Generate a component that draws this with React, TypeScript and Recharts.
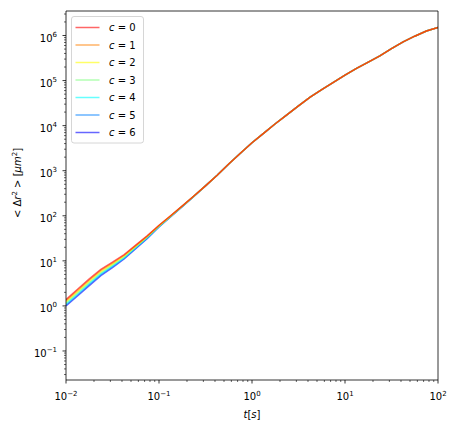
import React from 'react';
import { LineChart, Line, XAxis, YAxis } from 'recharts';

// time lags t [s]
const T = [
  0.01, 0.0133, 0.0178, 0.0237, 0.0316, 0.0422, 0.0562, 0.075, 0.1, 0.133, 0.178,
  0.237, 0.316, 0.422, 0.562, 0.75, 1, 1.33, 1.78, 2.37, 3.16, 4.22, 5.62, 7.5, 10,
  13.3, 17.8, 23.7, 31.6, 42.2, 56.2, 75, 100,
];

// MSD <dr^2> [um^2], one array per c
const LATE = [
  462, 794, 1410, 2450, 4170, 6760, 11000, 17400, 27500, 42700, 63100, 91200, 132000,
  186000, 257000, 355000, 513000, 724000, 966000, 1260000, 1510000,
];
const C0 = [1.38, 2.34, 3.98, 6.46, 9.33, 13.8, 22.4, 36.3, 61.7, 100, 166, 275, ...LATE];
const C1 = [1.31, 2.21, 3.76, 6.12, 8.91, 13.3, 21.7, 35.5, 60.8, 99.0, 165, 274, ...LATE];
const C2 = [1.24, 2.08, 3.55, 5.80, 8.51, 12.8, 21.0, 34.7, 59.8, 98.1, 164, 273, ...LATE];
const C3 = [1.17, 1.97, 3.35, 5.50, 8.13, 12.3, 20.4, 33.9, 58.9, 97.2, 163, 272, ...LATE];
const C4 = [1.11, 1.86, 3.16, 5.21, 7.76, 11.8, 19.8, 33.1, 57.9, 96.2, 162, 271, ...LATE];
const C5 = [1.05, 1.75, 2.98, 4.94, 7.41, 11.4, 19.2, 32.3, 57.1, 95.3, 161, 270, ...LATE];
const C6 = [1.00, 1.66, 2.82, 4.68, 7.08, 11.0, 18.6, 31.6, 56.3, 94.4, 160, 269, ...LATE];

const SERIES = [C0, C1, C2, C3, C4, C5, C6];
const NAMES = ['0', '1', '2', '3', '4', '5', '6'];
const COLORS = ['#ff0000', '#ff8000', '#ffff00', '#80ff80', '#00ffff', '#0080ff', '#0000ff'];

const X_MAJOR = [0.01, 0.1, 1, 10, 100];
const Y_MAJOR = [0.01, 0.1, 1, 10, 100, 1000, 10000, 100000, 1000000];
const MINOR_STEPS = [2, 3, 4, 5, 6, 7, 8, 9];
const X_DOMAIN = [0.01, 100];
const Y_DOMAIN = [0.0227, 3.5e6];

const W = 456;
const H = 431;
const LEFT = 66;
const RIGHT = 438;
const TOP = 11;
const BOTTOM = 380;
const X_AXIS_H = 30;
const Y_AXIS_W = 40;
const FONT = '"DejaVu Sans", sans-serif';

const data = T.map((t, i) => {
  const row: Record<string, number> = { t };
  SERIES.forEach((s, k) => { row['c' + k] = s[i]; });
  return row;
});

const withMinor = (major: number[], dom: number[]) => {
  const out: number[] = [];
  major.forEach((m) => {
    out.push(m);
    MINOR_STEPS.forEach((s) => out.push(+(m * s).toPrecision(3)));
  });
  return out.filter((v) => v >= dom[0] * 0.999 && v <= dom[1] * 1.001).sort((a, b) => a - b);
};

const X_TICKS = withMinor(X_MAJOR, X_DOMAIN);
const Y_TICKS = withMinor(Y_MAJOR, Y_DOMAIN);

const isMajor = (v: number) => {
  const l = Math.log10(v);
  return Math.abs(l - Math.round(l)) < 1e-6;
};
const expText = (v: number) => {
  const e = Math.round(Math.log10(v));
  return e < 0 ? '\u2212' + Math.abs(e) : String(e);
};

const XTick = (props: any) => {
  const { x, payload } = props;
  const major = isMajor(payload.value);
  return (
    <g>
      <line x1={x} x2={x} y1={BOTTOM} y2={BOTTOM + (major ? 3.5 : 2)} stroke="#000" strokeWidth={major ? 0.8 : 0.6} />
      {major && (
        <text x={x} y={BOTTOM + 20} textAnchor="middle" fontSize={10} fontFamily={FONT} fill="#000">
          10<tspan dy={-4.5} fontSize={7}>{expText(payload.value)}</tspan>
        </text>
      )}
    </g>
  );
};

const YTick = (props: any) => {
  const { y, payload } = props;
  const major = isMajor(payload.value);
  return (
    <g>
      <line x1={LEFT - (major ? 3.5 : 2)} x2={LEFT} y1={y} y2={y} stroke="#000" strokeWidth={major ? 0.8 : 0.6} />
      {major && (
        <text x={57} y={y + 6} textAnchor="end" fontSize={10} fontFamily={FONT} fill="#000">
          10<tspan dy={-4.5} fontSize={7}>{expText(payload.value)}</tspan>
        </text>
      )}
    </g>
  );
};

function LegendBox() {
  return (
    <svg width={74} height={129} style={{ position: 'absolute', left: 70.5, top: 16, pointerEvents: 'none' }}>
      <rect x={0.5} y={0.5} width={72} height={126.5} rx={2.5} fill="rgba(255,255,255,0.8)" stroke="#cccccc" strokeWidth={0.8} />
      {NAMES.map((n, k) => {
        const cy = 11.5 + k * 17.5;
        return (
          <g key={n}>
            <line x1={4.5} x2={28.5} y1={cy} y2={cy} stroke={COLORS[k]} strokeOpacity={0.6} strokeWidth={1.5} />
            <text x={38} y={cy + 3.6} fontSize={10} fontFamily={FONT} fill="#000">
              <tspan fontStyle="italic">c</tspan> = {n}
            </text>
          </g>
        );
      })}
    </svg>
  );
}

function AxisLabels() {
  return (
    <svg width={W} height={H} style={{ position: 'absolute', left: 0, top: 0, pointerEvents: 'none' }}>
      <text x={(LEFT + RIGHT) / 2} y={418} textAnchor="middle" fontSize={10} fontFamily={FONT} fill="#000">
        <tspan fontStyle="italic">t</tspan>[<tspan fontStyle="italic">s</tspan>]
      </text>
      <text x={21} y={183} transform="rotate(-90 21 183)" textAnchor="middle" fontSize={10} fontFamily={FONT} fill="#000">
        {'< \u0394'}<tspan fontStyle="italic">r</tspan>
        <tspan dy={-4.5} fontSize={7}>2</tspan>
        <tspan dy={4.5}>{' > ['}</tspan>
        <tspan fontStyle="italic">{'\u03bcm'}</tspan>
        <tspan dy={-4.5} fontSize={7}>2</tspan>
        <tspan dy={4.5}>]</tspan>
      </text>
    </svg>
  );
}

export default function App() {
  const order = [6, 5, 4, 3, 2, 1, 0];
  return (
    <div style={{ position: 'absolute', left: 0, top: 0, width: W, height: H, background: '#fff' }}>
      <LineChart
        width={W} height={H} data={data}
        margin={{ top: TOP - 1, right: W - RIGHT - 1, bottom: H - BOTTOM - X_AXIS_H, left: LEFT - Y_AXIS_W }}
      >
        <XAxis
          dataKey="t" type="number" scale="log" domain={X_DOMAIN} allowDataOverflow
          ticks={X_TICKS} interval={0} tick={<XTick />} tickLine={false} height={X_AXIS_H}
          axisLine={{ stroke: '#000', strokeWidth: 0.8 }}
        />
        <XAxis
          xAxisId="top" orientation="top" dataKey="t" type="number" scale="log" domain={X_DOMAIN}
          allowDataOverflow tick={false} tickLine={false} height={1}
          axisLine={{ stroke: '#000', strokeWidth: 0.8 }}
        />
        <YAxis
          type="number" scale="log" domain={Y_DOMAIN} allowDataOverflow
          ticks={Y_TICKS} interval={0} tick={<YTick />} tickLine={false} width={Y_AXIS_W}
          axisLine={{ stroke: '#000', strokeWidth: 0.8 }}
        />
        <YAxis
          yAxisId="right" orientation="right" type="number" scale="log" domain={Y_DOMAIN}
          allowDataOverflow tick={false} tickLine={false} width={1}
          axisLine={{ stroke: '#000', strokeWidth: 0.8 }}
        />
        {order.map((k) => (
          <Line
            key={k} type="linear" dataKey={'c' + k} name={'c = ' + NAMES[k]}
            stroke={COLORS[k]} strokeOpacity={0.6} strokeWidth={1.5} dot={false}
            isAnimationActive={false}
          />
        ))}
      </LineChart>
      <AxisLabels />
      <LegendBox />
    </div>
  );
}
